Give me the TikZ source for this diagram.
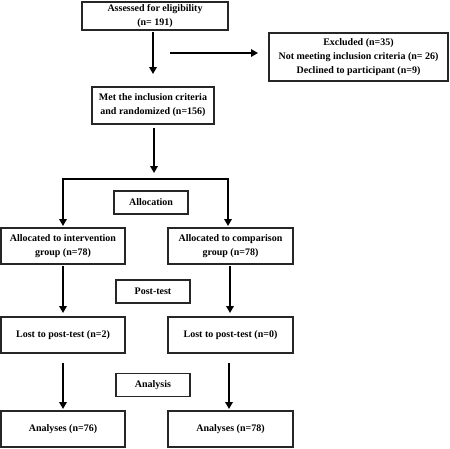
\documentclass[tikz,border=0pt]{standalone}
\usepackage{fontspec}
\setmainfont{Liberation Serif}
\usetikzlibrary{arrows.meta}
\begin{document}
\begin{tikzpicture}[x=1pt,y=-1pt,
  box/.style={draw=black!85,line width=1.2pt,align=center,inner sep=0pt,
    font=\fontsize{10}{14}\selectfont\bfseries},
  arr/.style={line width=2.4pt,-{Triangle[length=7pt,width=7.5pt]}},
  ln/.style={line width=2.4pt}]
\useasboundingbox (0,0) rectangle (450,448);
\node[box,minimum width=146pt,minimum height=28pt] (a) at (155,16) {Assessed for eligibility\\(n= 191)};
\node[box,minimum width=179pt,minimum height=48pt] (ex) at (358.5,57) {Excluded (n=35)\\Not meeting inclusion criteria (n= 26)\\Declined to participant (n=9)};
\node[box,minimum width=122pt,minimum height=37pt] (m) at (153,105.5) {Met the inclusion criteria\\and randomized (n=156)};
\node[box,minimum width=74pt,minimum height=23pt] (al) at (151,202.5) {Allocation};
\node[box,minimum width=124pt,minimum height=36pt] (i1) at (63,246) {Allocated to intervention\\group (n=78)};
\node[box,minimum width=125pt,minimum height=36pt] (c1) at (230.5,246) {Allocated to comparison\\group (n=78)};
\node[box,minimum width=74pt,minimum height=23pt] (pt) at (153,291.5) {Post-test};
\node[box,minimum width=124pt,minimum height=36pt] (i2) at (63,335) {Lost to post-test (n=2)};
\node[box,minimum width=125pt,minimum height=36pt] (c2) at (230.5,335) {Lost to post-test (n=0)};
\node[box,minimum width=74pt,minimum height=23pt] (an) at (153,385) {Analysis};
\node[box,minimum width=124pt,minimum height=36pt] (i3) at (63,429) {Analyses (n=76)};
\node[box,minimum width=125pt,minimum height=36pt] (c3) at (230.5,429) {Analyses (n=78)};
% connector end points
\coordinate (a1) at (153,32);  \coordinate (a2) at (153,74);
\coordinate (h1) at (170,53);  \coordinate (h2) at (258,53);
\coordinate (m1) at (154,128); \coordinate (m2) at (154,173);
\coordinate (bl) at (63,179);  \coordinate (br) at (228,179);
\coordinate (bl2) at (63,226); \coordinate (br2) at (228,226);
\coordinate (i1a) at (63,266); \coordinate (i1b) at (63,313);
\coordinate (c1a) at (230,266); \coordinate (c1b) at (230,313);
\coordinate (i2a) at (63,363); \coordinate (i2b) at (63,409);
\coordinate (c2a) at (229,363); \coordinate (c2b) at (229,409);
\draw[arr] (a1) -- (a2);
\draw[arr] (h1) -- (h2);
\draw[arr] (m1) -- (m2);
\draw[ln] ([xshift=-1.2pt]bl) -- ([xshift=1.2pt]br);
\draw[arr] (bl) -- (bl2);
\draw[arr] (br) -- (br2);
\draw[arr] (i1a) -- (i1b);
\draw[arr] (c1a) -- (c1b);
\draw[arr] (i2a) -- (i2b);
\draw[arr] (c2a) -- (c2b);
\end{tikzpicture}
\end{document}
